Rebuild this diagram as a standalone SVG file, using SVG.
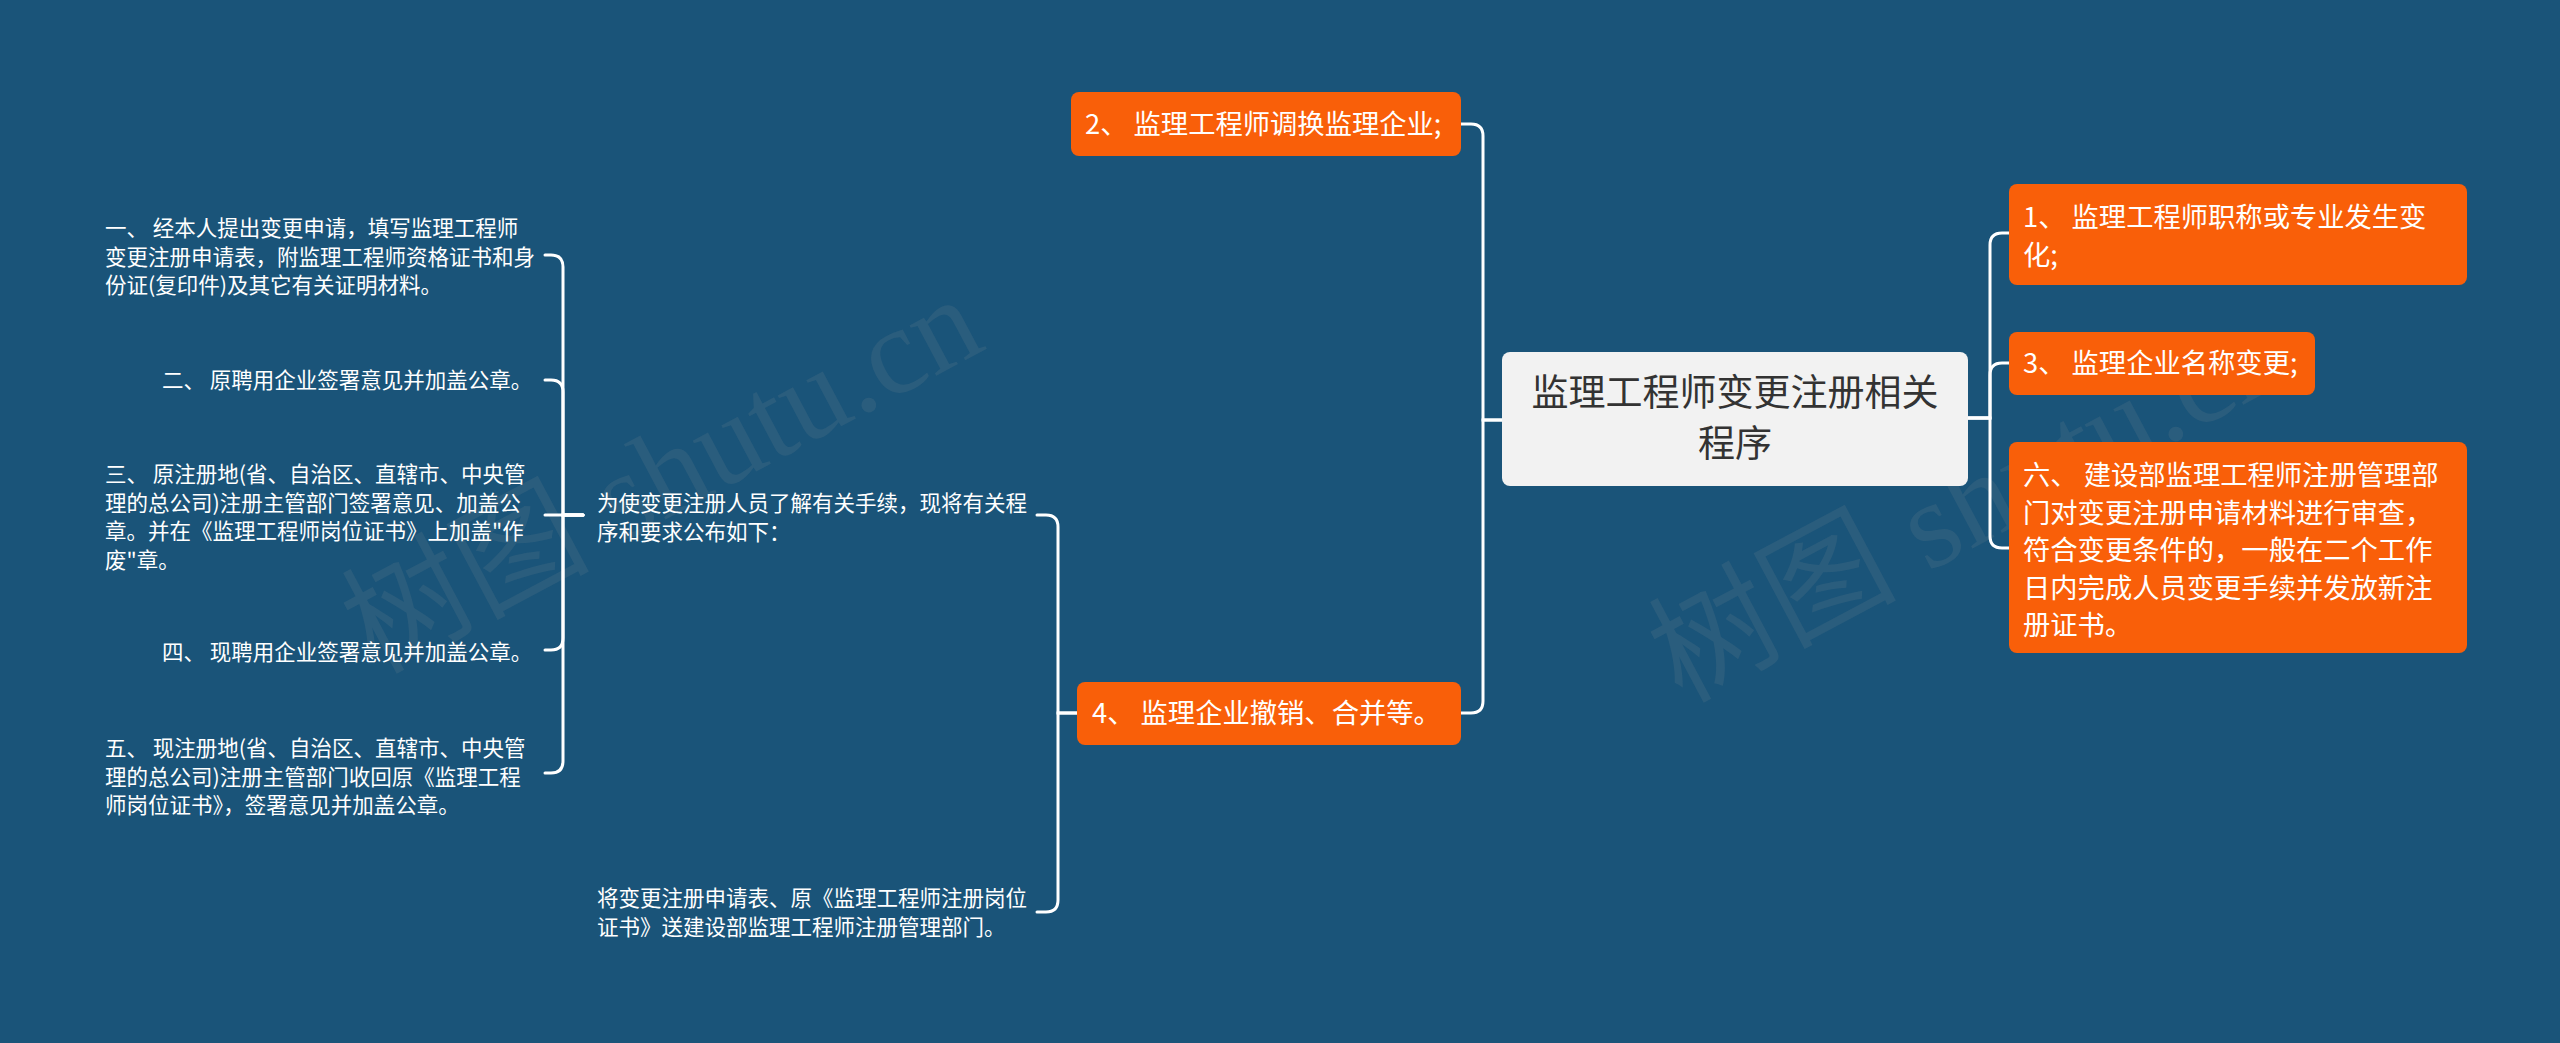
<svg xmlns="http://www.w3.org/2000/svg" width="2560" height="1043" viewBox="0 0 2560 1043">
<style>
.bg{fill:#1a5479}
.conn path{fill:none;stroke:#ffffff;stroke-width:3;stroke-linecap:round}
.orange rect{fill:#f95f09}
.orange text{fill:#ffffff;font-size:27.3px}
.t{font-family:"Noto Sans CJK SC","Microsoft YaHei",sans-serif}
.small text{fill:#ffffff;font-size:21.5px}
.wm{font-family:"Liberation Serif","Noto Sans CJK SC",serif;font-size:124px;fill:#9a9a9a;fill-opacity:0.13}
</style>
<rect class="bg" x="0" y="0" width="2560" height="1043"/>
<text class="wm" x="668" y="486" text-anchor="middle" transform="rotate(-28 668 486)" dominant-baseline="middle">树图 shutu.cn</text>
<text class="wm" x="1975" y="515" text-anchor="middle" transform="rotate(-28 1975 515)" dominant-baseline="middle">树图 shutu.cn</text>
<g id="connectors" class="conn">
<path d="M1968,418 H1990 V245 Q1990,233 2002,233 H2009"/>
<path d="M1968,418 H1990 V375 Q1990,363 2002,363 H2009"/>
<path d="M1968,418 H1990 V536 Q1990,548 2002,548 H2009"/>
<path d="M1502,420 H1483 V136 Q1483,124 1471,124 H1461"/>
<path d="M1502,420 H1483 V701 Q1483,713 1471,713 H1461"/>
<path d="M1077,713 H1058 V527 Q1058,515 1046,515 H1037"/>
<path d="M1077,713 H1058 V900 Q1058,912 1046,912 H1037"/>
<path d="M583,515 H563 V267 Q563,255 551,255 H545"/>
<path d="M583,515 H563 V392 Q563,380 551,380 H545"/>
<path d="M583,515 H545"/>
<path d="M583,515 H563 V638 Q563,650 551,650 H545"/>
<path d="M583,515 H563 V761 Q563,773 551,773 H545"/>
</g>
<g id="root">
<rect x="1502" y="352" width="466" height="134" rx="8" fill="#f2f2f2"/>
<text class="t" x="1735" y="406" text-anchor="middle" font-size="37" fill="#333333">监理工程师变更注册相关</text>
<text class="t" x="1735" y="457" text-anchor="middle" font-size="37" fill="#333333">程序</text>
</g>
<g id="n2" class="orange">
<rect x="1071" y="92" width="390" height="64" rx="8"/>
<text class="t" x="1085" y="134">2、 监理工程师调换监理企业;</text>
</g>
<g id="n4" class="orange">
<rect x="1077" y="682" width="384" height="63" rx="8"/>
<text class="t" x="1092" y="723">4、 监理企业撤销、合并等。</text>
</g>
<g id="n1" class="orange">
<rect x="2009" y="184" width="458" height="101" rx="8"/>
<text class="t" x="2023" y="227">1、 监理工程师职称或专业发生变</text>
<text class="t" x="2023" y="265">化;</text>
</g>
<g id="n3" class="orange">
<rect x="2009" y="332" width="306" height="63" rx="8"/>
<text class="t" x="2023" y="373">3、 监理企业名称变更;</text>
</g>
<g id="n6" class="orange">
<rect x="2009" y="442" width="458" height="211" rx="8"/>
<text class="t" x="2023" y="485">六、 建设部监理工程师注册管理部</text>
<text class="t" x="2023" y="523">门对变更注册申请材料进行审查，</text>
<text class="t" x="2023" y="560">符合变更条件的，一般在二个工作</text>
<text class="t" x="2023" y="598">日内完成人员变更手续并发放新注</text>
<text class="t" x="2023" y="635">册证书。</text>
</g>
<g id="intro" class="small">
<text class="t" x="597" y="511">为使变更注册人员了解有关手续，现将有关程</text>
<text class="t" x="597" y="540">序和要求公布如下：</text>
</g>
<g id="submit" class="small">
<text class="t" x="597" y="906">将变更注册申请表、原《监理工程师注册岗位</text>
<text class="t" x="597" y="935">证书》送建设部监理工程师注册管理部门。</text>
</g>
<g id="s1" class="small">
<text class="t" x="105" y="236">一、 经本人提出变更申请，填写监理工程师</text>
<text class="t" x="105" y="265">变更注册申请表，附监理工程师资格证书和身</text>
<text class="t" x="105" y="293">份证(复印件)及其它有关证明材料。</text>
</g>
<g id="s2" class="small">
<text class="t" x="162" y="388">二、 原聘用企业签署意见并加盖公章。</text>
</g>
<g id="s3" class="small">
<text class="t" x="105" y="482">三、 原注册地(省、自治区、直辖市、中央管</text>
<text class="t" x="105" y="511">理的总公司)注册主管部门签署意见、加盖公</text>
<text class="t" x="105" y="539">章。并在《监理工程师岗位证书》上加盖"作</text>
<text class="t" x="105" y="568">废"章。</text>
</g>
<g id="s4" class="small">
<text class="t" x="162" y="660">四、 现聘用企业签署意见并加盖公章。</text>
</g>
<g id="s5" class="small">
<text class="t" x="105" y="756">五、 现注册地(省、自治区、直辖市、中央管</text>
<text class="t" x="105" y="785">理的总公司)注册主管部门收回原《监理工程</text>
<text class="t" x="105" y="813">师岗位证书》，签署意见并加盖公章。</text>
</g>
</svg>
